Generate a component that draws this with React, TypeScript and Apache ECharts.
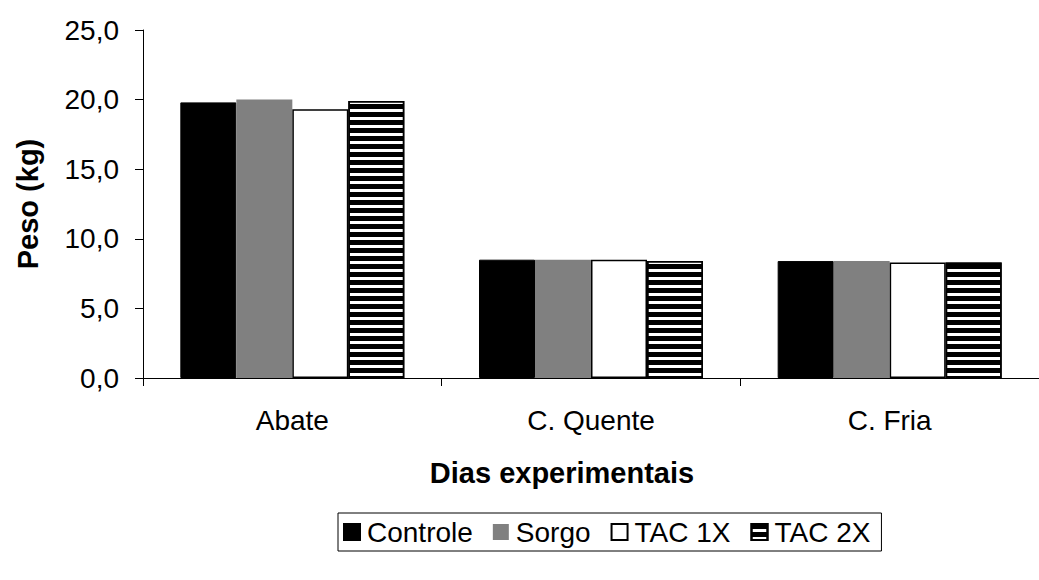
import React, { useEffect, useRef } from "react";
import * as echarts from "echarts";

// Categories and tick labels
const categories = ["Abate", "C. Quente", "C. Fria"];
const yTicks = [0, 5, 10, 15, 20, 25];

// Weight (kg) per treatment
const controle = [19.8, 8.5, 8.4];
const sorgo = [20.0, 8.5, 8.4];
const tac1x = [19.3, 8.5, 8.3];
const tac2x = [19.9, 8.4, 8.3];

const FONT = "'Liberation Sans', Arial, sans-serif";

export default function App() {
  const ref = useRef<HTMLDivElement>(null);

  useEffect(() => {
    if (!ref.current) return;
    const chart = echarts.init(ref.current, undefined, { renderer: "svg" });

    const fmt = (v: number) => v.toFixed(1).replace(".", ",");

    chart.setOption({
      animation: false,
      backgroundColor: "#ffffff",
      textStyle: { fontFamily: FONT, color: "#000" },
      grid: { left: 143, top: 30, width: 906, height: 348, containLabel: false },
      legend: {
        left: 338,
        top: 513,
        padding: [5, 11, 5, 5],
        borderColor: "#000",
        borderWidth: 1,
        itemWidth: 16,
        itemHeight: 16,
        itemGap: 20,
        icon: "rect",
        textStyle: { fontFamily: FONT, fontSize: 28, color: "#000", padding: [0, 0, 0, 2] },
        data: ["Controle", "Sorgo", "TAC 1X", "TAC 2X"],
      },
      xAxis: {
        type: "category",
        data: categories,
        name: "Dias experimentais",
        nameLocation: "middle",
        nameGap: 80,
        nameTextStyle: { fontFamily: FONT, fontSize: 29, fontWeight: "bold", color: "#000", padding: [0, 58, 0, 0] },
        axisLine: { lineStyle: { color: "#000", width: 1 } },
        axisTick: { show: true, length: 8, inside: false, alignWithLabel: false, lineStyle: { color: "#000" } },
        axisLabel: { fontFamily: FONT, fontSize: 28, color: "#000", margin: 28 },
      },
      yAxis: {
        type: "value",
        min: yTicks[0],
        max: yTicks[yTicks.length - 1],
        interval: 5,
        name: "Peso (kg)",
        nameLocation: "middle",
        nameGap: 101,
        nameRotate: 90,
        nameTextStyle: { fontFamily: FONT, fontSize: 29, fontWeight: "bold", color: "#000" },
        axisLine: { show: true, lineStyle: { color: "#000", width: 1 } },
        axisTick: { show: true, length: 8, lineStyle: { color: "#000" } },
        splitLine: { show: false },
        axisLabel: { fontFamily: FONT, fontSize: 28, color: "#000", margin: 24, formatter: fmt },
      },
      series: [
        {
          name: "Controle",
          type: "bar",
          data: controle,
          barWidth: 56,
          barGap: "0%",
          itemStyle: { color: "#000000", borderColor: "#000", borderWidth: 1 },
        },
        {
          name: "Sorgo",
          type: "bar",
          data: sorgo,
          barWidth: 56,
          barGap: "0%",
          itemStyle: { color: "#808080" },
        },
        {
          name: "TAC 1X",
          type: "bar",
          data: tac1x,
          barWidth: 56,
          barGap: "0%",
          itemStyle: { color: "#ffffff", borderColor: "#000", borderWidth: 1.5 },
        },
        {
          name: "TAC 2X",
          type: "bar",
          data: tac2x,
          barWidth: 56,
          barGap: "0%",
          itemStyle: {
            color: "#ffffff",
            borderColor: "#000",
            borderWidth: 1.5,
            decal: {
              symbol: "rect",
              symbolSize: 1,
              symbolKeepAspect: false,
              color: "#000000",
              backgroundColor: "#ffffff",
              dashArrayX: [1, 0],
              dashArrayY: [5, 3],
              rotation: 0,
            },
          },
        },
      ],
    });

    return () => chart.dispose();
  }, []);

  return (
    <div
      ref={ref}
      style={{ position: "fixed", left: 0, top: 0, width: 1039, height: 580, background: "#fff" }}
    />
  );
}
